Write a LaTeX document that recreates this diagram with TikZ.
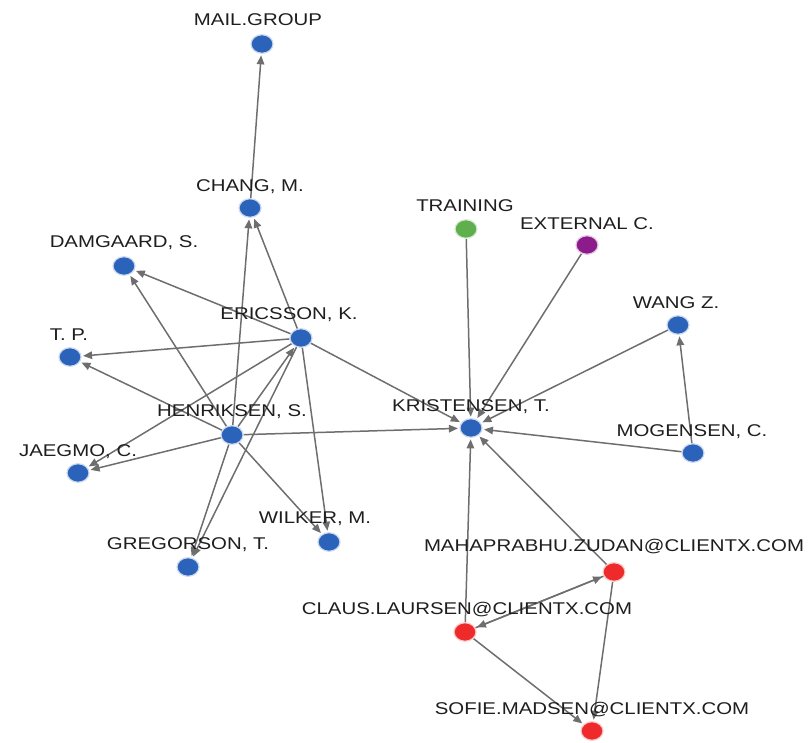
\documentclass[tikz,border=0pt]{standalone}
\usepackage{fontspec}
\setmainfont{Liberation Sans}[FakeStretch=1.2]
\usetikzlibrary{arrows.meta,shapes.geometric}
\pgfdeclarelayer{background}
\pgfsetlayers{background,main}
\definecolor{dotblue}{HTML}{2B62BA}
\definecolor{dotgreen}{HTML}{5FAF4E}
\definecolor{dotpurple}{HTML}{8C1C8C}
\definecolor{dotred}{HTML}{EE2A2A}
\definecolor{edgegray}{HTML}{6E6E6E}
\definecolor{labeltext}{HTML}{1E1E1E}
\begin{document}
\begin{tikzpicture}[x=1pt,y=-1pt,
  vdot/.style={ellipse, minimum width=22pt, minimum height=18.5pt, inner sep=0pt, fill=#1, draw=#1!25, line width=1.2pt},
  lbl/.style={font=\fontsize{17}{17}\selectfont, text=labeltext, inner sep=0pt, text height=12.2pt, text depth=0pt},
  link/.style={draw=edgegray, line width=1.5pt, -{Triangle[length=9pt,width=7.5pt]}, shorten >=1.5pt}]
\useasboundingbox (0,0) rectangle (808,743);
% dots
\node[vdot=dotblue] (mail) at (262,44) {};
\node[vdot=dotblue] (chang) at (250,208) {};
\node[vdot=dotblue] (damg) at (124,266) {};
\node[vdot=dotblue] (eric) at (301,338) {};
\node[vdot=dotblue] (tp) at (70,357) {};
\node[vdot=dotblue] (henr) at (232,435) {};
\node[vdot=dotblue] (jaeg) at (78,473) {};
\node[vdot=dotblue] (greg) at (188,567) {};
\node[vdot=dotblue] (wilk) at (329,542) {};
\node[vdot=dotgreen] (train) at (466,229) {};
\node[vdot=dotpurple] (ext) at (587,245) {};
\node[vdot=dotblue] (wang) at (678,325) {};
\node[vdot=dotblue] (kris) at (471,428) {};
\node[vdot=dotblue] (mog) at (693,453) {};
\node[vdot=dotred] (maha) at (614,572) {};
\node[vdot=dotred] (claus) at (465,632) {};
\node[vdot=dotred] (sofie) at (592,731) {};
% labels
\node[lbl] (mail-l) at (258,19) {MAIL.GROUP};
\node[lbl] (chang-l) at (250,185) {CHANG, M.};
\node[lbl] (damg-l) at (124,241) {DAMGAARD, S.};
\node[lbl] (eric-l) at (289,313) {ERICSSON, K.};
\node[lbl] (tp-l) at (69,334) {T. P.};
\node[lbl] (henr-l) at (232,410) {HENRIKSEN, S.};
\node[lbl] (jaeg-l) at (78,450) {JAEGMO, C.};
\node[lbl] (greg-l) at (188,543) {GREGORSON, T.};
\node[lbl] (wilk-l) at (315,517) {WILKER, M.};
\node[lbl] (train-l) at (465,205) {TRAINING};
\node[lbl] (ext-l) at (587,223) {EXTERNAL C.};
\node[lbl] (wang-l) at (676,302) {WANG Z.};
\node[lbl] (kris-l) at (471,405) {KRISTENSEN, T.};
\node[lbl] (mog-l) at (692,430) {MOGENSEN, C.};
\node[lbl] (maha-l) at (614,545) {MAHAPRABHU.ZUDAN@CLIENTX.COM};
\node[lbl] (claus-l) at (467,608) {CLAUS.LAURSEN@CLIENTX.COM};
\node[lbl] (sofie-l) at (592,708) {SOFIE.MADSEN@CLIENTX.COM};
% edges
\begin{pgfonlayer}{background}
\draw[link] (chang) -- (mail);
\draw[link] (henr) -- (chang);
\draw[link] (eric) -- (chang);
\draw[link] (eric) -- (damg);
\draw[link] (henr) -- (damg);
\draw[link] (eric) -- (tp);
\draw[link] (henr) -- (tp);
\draw[link] (eric) -- (jaeg);
\draw[link] (henr) -- (jaeg);
\draw[link] (henr) -- (eric);
\draw[link] (eric) -- (greg);
\draw[link] (henr) -- (greg);
\draw[link] (eric) -- (wilk);
\draw[link] (henr) -- (wilk);
\draw[link] (eric) -- (kris);
\draw[link] (henr) -- (kris);
\draw[link] (train) -- (kris);
\draw[link] (ext) -- (kris);
\draw[link] (wang) -- (kris);
\draw[link] (mog) -- (kris);
\draw[link] (mog) -- (wang);
\draw[link] (claus) -- (kris);
\draw[link] (maha) -- (kris);
\draw[link] (claus) -- (maha);
\draw[link] (maha) -- (claus);
\draw[link] (claus) -- (sofie);
\draw[link] (maha) -- (sofie);
\end{pgfonlayer}
\end{tikzpicture}
\end{document}
